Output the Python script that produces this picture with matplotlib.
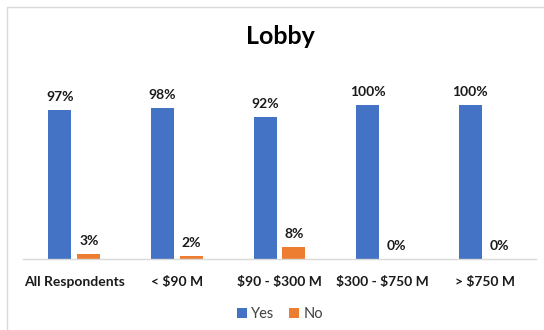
import matplotlib
matplotlib.use("Agg")
import matplotlib.pyplot as plt
from matplotlib.patches import Rectangle
import numpy as np

categories = ["All Respondents", "< \\$90 M", "\\$90 - \\$300 M", "\\$300 - \\$750 M", "> \\$750 M"]
yes_values = [97, 98, 92, 100, 100]
no_values = [3, 2, 8, 0, 0]
series_names = ["Yes", "No"]

plt.rcParams["font.family"] = ["Lato", "DejaVu Sans"]

fig = plt.figure(figsize=(5.44, 3.30), dpi=100)
fig.patch.set_facecolor("white")

# chart frame
fig.patches.append(Rectangle((7 / 544, -0.05), 1.1, 1 - 7 / 330 + 0.05,
                             transform=fig.transFigure, fill=False,
                             edgecolor="#D9D9D9", linewidth=1.0))

ax = fig.add_axes([23 / 544, 0.215, (536 - 23) / 544, 0.56])
x = np.arange(len(categories))
w = 0.224
off = 0.141
b1 = ax.bar(x - off, yes_values, w, color="#4472C4", label=series_names[0])
b2 = ax.bar(x + off, no_values, w, color="#ED7D31", label=series_names[1])

for bars, vals in ((b1, yes_values), (b2, no_values)):
    for rect, v in zip(bars, vals):
        ax.annotate(f"{v}%", (rect.get_x() + rect.get_width() / 2, v),
                    xytext=(0, 5), textcoords="offset points",
                    ha="center", va="bottom", fontsize=10,
                    fontweight="bold", color="#1a1a1a")

ax.set_xlim(-0.5, len(categories) - 0.5)
ax.set_ylim(0, 120)
ax.set_yticks([])
ax.set_xticks(x)
ax.set_xticklabels(categories, fontsize=10, fontweight="bold", color="#1a1a1a")
ax.tick_params(axis="x", length=0, pad=12)
for s in ("top", "right", "left"):
    ax.spines[s].set_visible(False)
ax.spines["bottom"].set_color("#D9D9D9")
ax.spines["bottom"].set_linewidth(1.0)

fig.text(280 / 544, 1 - 36 / 330, "Lobby", ha="center", va="center",
         fontsize=18, fontweight="bold", color="black")

fig.legend(handles=[b1, b2], loc="center", bbox_to_anchor=(280 / 544, 1 - 314 / 330),
           ncol=2, frameon=False, fontsize=10.5, handlelength=0.7, handleheight=0.7,
           handletextpad=0.3, columnspacing=1.0, labelcolor="#404040")

fig.savefig("out.png", dpi=100, facecolor="white")
